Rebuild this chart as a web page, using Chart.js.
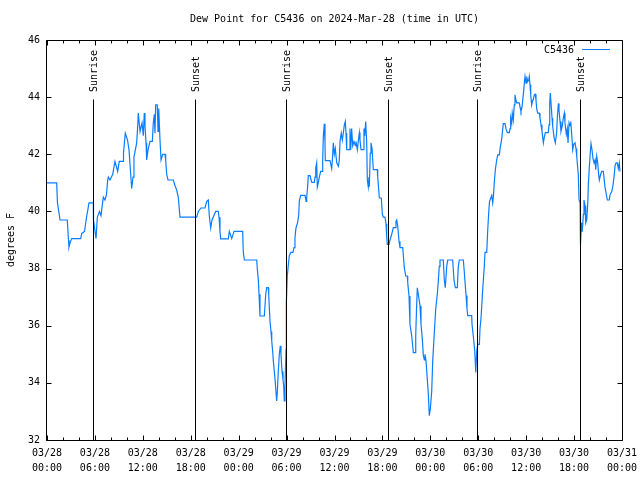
<!DOCTYPE html>
<html><head><meta charset="utf-8">
<script src="https://cdn.jsdelivr.net/npm/chart.js@4"></script>
<style>html,body{margin:0;padding:0;background:#fff}#wrap{width:640px;height:480px}</style>
</head><body><div id="wrap"><canvas id="c" width="640" height="480"></canvas></div>
<script>
const titleText = 'Dew Point for C5436 on 2024-Mar-28 (time in UTC)';
const seriesName = 'C5436';
const yAxisTitle = 'degrees F';
const xTickHours = [0,6,12,18,24,30,36,42,48,54,60,66,72];
const xTickDates = ['03/28','03/28','03/28','03/28','03/29','03/29','03/29','03/29','03/30','03/30','03/30','03/30','03/31'];
const xTickTimes = ['00:00','06:00','12:00','18:00','00:00','06:00','12:00','18:00','00:00','06:00','12:00','18:00','00:00'];
const yMin = 32, yMax = 46, yStep = 2;
const eventHours = [5.81, 18.57, 29.95, 42.7, 53.87, 66.8];
const eventNames = ['Sunrise','Sunset','Sunrise','Sunset','Sunrise','Sunset'];
const eventTop = 43.95;
// [hours since 03/28 00:00 UTC, dew point F]
const dewSeries = [
[0,41.0],[1.21,41.0],[1.31,40.3],[1.5,39.96],[1.63,39.7],[2.54,39.7],[2.69,39.0],[2.75,38.75],[2.88,38.9],[3.09,39.05],
[4.22,39.05],[4.35,39.23],[4.7,39.3],[4.97,39.83],[5.26,40.3],[5.8,40.3],[5.82,39.7],[6.14,39.05],[6.3,39.8],[6.57,40.0],
[6.76,39.85],[7.05,40.5],[7.26,40.4],[7.45,40.6],[7.6,41.1],[7.68,41.2],[7.89,41.1],[8.23,41.3],[8.51,41.75],[8.85,41.4],
[9.05,41.75],[9.52,41.75],[9.58,42.05],[9.8,42.74],[10.08,42.5],[10.27,42.15],[10.48,41.3],[10.6,40.8],[10.77,41.2],[10.89,41.9],
[11.23,42.4],[11.36,43.0],[11.43,43.44],[11.65,42.8],[11.9,43.1],[12.06,42.65],[12.18,43.44],[12.27,43.0],[12.4,42.4],[12.48,41.8],
[12.68,42.2],[12.9,42.45],[13.19,42.45],[13.31,43.1],[13.44,43.4],[13.52,42.74],[13.61,43.73],[13.81,43.73],[13.9,42.8],[13.99,43.6],
[14.15,42.5],[14.28,41.8],[14.49,42.0],[14.78,42.0],[14.86,41.8],[14.99,41.3],[15.15,41.1],[15.82,41.1],[16.03,40.9],[16.24,40.75],
[16.44,40.5],[16.65,39.8],[18.53,39.8],[18.75,39.8],[18.95,40.0],[19.28,40.12],[19.78,40.12],[20.0,40.35],[20.2,40.4],[20.32,39.85],
[20.5,39.42],[20.66,39.7],[21.12,40.0],[21.45,40.0],[21.54,39.8],[21.66,39.3],[21.75,39.04],[22.7,39.04],[22.83,39.3],[23.13,39.05],
[23.42,39.3],[24.5,39.3],[24.58,38.57],[24.71,38.3],[26.26,38.3],[26.33,38.0],[26.46,37.6],[26.55,37.1],[26.67,36.34],[27.21,36.34],
[27.39,37.1],[27.51,37.33],[27.71,37.33],[27.76,37.1],[27.92,36.17],[28.05,35.8],[28.14,35.47],[28.26,35.1],[28.34,34.77],[28.55,34.13],
[28.68,33.66],[28.76,33.37],[28.84,33.66],[28.96,34.4],[29.09,35.0],[29.21,35.3],[29.3,35.0],[29.43,34.4],[29.55,34.1],[29.64,33.9],
[29.71,33.37],[29.8,33.9],[29.93,35.17],[29.97,36.8],[30.09,37.74],[30.22,38.14],[30.34,38.44],[30.52,38.57],[30.8,38.57],[30.93,38.73],
[31.05,39.08],[31.18,39.43],[31.37,39.6],[31.52,39.87],[31.59,40.35],[31.77,40.56],[32.31,40.56],[32.44,40.35],[32.52,40.5],[32.64,40.88],
[32.72,41.25],[32.93,41.25],[33.15,41.02],[33.47,41.02],[33.56,41.2],[33.65,41.52],[33.77,41.7],[33.85,40.86],[33.97,41.0],[34.1,41.2],
[34.27,41.4],[34.47,41.4],[34.52,41.8],[34.6,42.62],[34.72,43.07],[34.81,42.4],[34.85,41.78],[35.44,41.78],[35.65,41.5],[35.73,41.78],
[35.85,42.4],[35.98,42.0],[36.1,42.2],[36.28,41.7],[36.48,41.58],[36.6,41.8],[36.69,42.45],[36.85,42.74],[36.98,42.5],[37.1,42.74],
[37.23,43.03],[37.35,43.15],[37.44,42.74],[37.53,42.16],[37.82,42.16],[37.94,42.9],[38.03,42.16],[38.15,42.9],[38.28,42.3],[38.44,42.45],
[38.61,42.3],[38.69,42.45],[38.86,42.16],[38.98,42.45],[39.11,42.76],[39.19,42.5],[39.32,42.16],[39.61,42.16],[39.69,42.9],[39.78,42.64],
[39.91,43.15],[40.03,42.45],[40.11,41.1],[40.23,40.86],[40.32,41.2],[40.36,40.86],[40.48,42.04],[40.57,42.4],[40.7,42.2],[40.86,41.46],
[41.36,41.46],[41.41,41.2],[41.54,40.76],[41.61,40.47],[41.86,40.47],[41.99,39.9],[42.11,39.8],[42.32,39.8],[42.45,39.57],[42.54,39.1],
[42.61,38.85],[42.82,38.85],[42.95,39.0],[43.16,39.2],[43.36,39.43],[43.58,39.43],[43.7,39.65],[43.79,39.7],[43.91,39.5],[44.08,38.96],
[44.2,38.73],[44.54,38.73],[44.61,38.5],[44.74,38.03],[44.92,37.74],[45.12,37.74],[45.17,37.5],[45.33,37.04],[45.45,36.05],[45.67,35.64],
[45.79,35.3],[45.87,35.06],[46.08,35.06],[46.17,35.64],[46.29,36.75],[46.37,37.33],[46.49,37.1],[46.71,36.7],[46.83,36.05],[47.0,35.53],
[47.12,34.96],[47.25,34.8],[47.33,35.0],[47.46,34.77],[47.62,34.13],[47.75,33.6],[47.87,32.85],[48.0,33.1],[48.17,33.7],[48.3,34.77],
[48.5,35.76],[48.67,36.57],[48.87,37.1],[49.0,37.56],[49.12,38.08],[49.21,38.3],[49.62,38.3],[49.75,37.6],[49.87,37.33],[50.05,38.08],
[50.18,38.3],[50.8,38.3],[50.96,37.6],[51.13,37.33],[51.38,37.33],[51.5,38.08],[51.63,38.3],[52.13,38.3],[52.22,38.0],[52.47,37.06],
[52.59,36.6],[52.68,36.35],[53.18,36.35],[53.22,36.05],[53.38,35.64],[53.56,35.12],[53.69,34.36],[53.81,35.12],[53.94,35.35],[54.14,35.35],
[54.22,35.9],[54.35,36.28],[54.51,37.04],[54.64,37.6],[54.76,38.08],[54.85,38.57],[55.06,38.57],[55.19,39.37],[55.31,39.95],[55.41,40.35],
[55.69,40.56],[55.81,40.3],[55.89,40.5],[56.01,41.02],[56.14,41.46],[56.31,41.8],[56.44,41.98],[56.64,41.98],[56.76,42.25],[56.94,42.54],
[57.06,42.88],[57.14,43.07],[57.35,43.07],[57.48,42.88],[57.64,42.76],[57.89,42.76],[57.98,42.9],[58.06,43.27],[58.19,43.1],[58.26,43.44],
[58.39,43.2],[58.51,43.73],[58.6,44.08],[58.69,43.93],[58.81,43.8],[59.14,43.8],[59.23,43.65],[59.35,43.5],[59.48,43.65],[59.64,44.08],
[59.77,44.49],[59.86,44.72],[59.98,44.49],[60.07,44.72],[60.19,44.55],[60.32,44.6],[60.39,44.72],[60.48,44.43],[60.57,44.08],[60.69,43.73],
[60.82,43.9],[60.89,43.9],[61.02,44.08],[61.14,44.1],[61.23,43.9],[61.32,43.6],[61.44,43.44],[61.65,43.44],[61.73,43.27],[61.86,43.03],
[61.98,42.8],[62.07,42.6],[62.15,42.4],[62.27,42.6],[62.4,42.76],[62.77,42.76],[62.86,43.03],[62.95,43.78],[63.02,44.14],[63.11,43.8],
[63.24,43.27],[63.32,42.98],[63.49,42.6],[63.65,42.4],[63.82,42.76],[63.9,43.27],[64.03,43.78],[64.11,43.55],[64.24,43.15],[64.36,42.8],
[64.53,43.0],[64.65,43.27],[64.78,43.44],[64.86,43.1],[65.03,42.7],[65.15,42.9],[65.24,42.4],[65.37,43.1],[65.49,43.0],[65.58,43.15],
[65.7,42.7],[65.83,42.16],[65.95,42.35],[66.12,42.4],[66.24,42.2],[66.33,41.93],[66.53,41.28],[66.62,40.4],[66.75,40.3],[66.8,38.84],
[66.88,39.3],[66.95,39.6],[67.03,39.3],[67.16,39.9],[67.24,40.4],[67.37,40.2],[67.46,39.6],[67.58,39.7],[67.71,40.25],[67.78,40.9],
[67.91,41.55],[68.04,42.1],[68.12,42.37],[68.25,42.15],[68.37,41.85],[68.5,41.7],[68.62,41.8],[68.71,41.46],[68.83,41.93],[68.96,41.7],
[69.08,41.28],[69.16,41.1],[69.33,41.3],[69.46,41.4],[69.66,41.4],[69.87,40.85],[70.08,40.53],[70.16,40.4],[70.41,40.4],[70.5,40.58],
[70.71,40.7],[70.84,40.85],[71.0,41.2],[71.13,41.6],[71.25,41.7],[71.41,41.7],[71.54,41.5],[71.66,41.7],[71.75,41.4],[71.87,41.4]
];

const FONT = '"DejaVu Sans Mono", "Liberation Mono", monospace';
const lineColor = '#0a7dff';

const decor = {
  id: 'decor',
  afterDatasetsDraw(chart) {
    const ctx = chart.ctx, a = chart.chartArea;
    const xs = chart.scales.x, ys = chart.scales.y;
    const L = Math.round(a.left) - 0.5, R = Math.round(a.right) + 0.5;
    const T = Math.round(a.top) + 0.5, B = Math.round(a.bottom) + 0.5;
    ctx.save();
    ctx.strokeStyle = '#000'; ctx.lineWidth = 1;
    eventHours.forEach((h) => {
      const px = Math.round(xs.getPixelForValue(h)) + 0.5;
      ctx.beginPath();
      ctx.moveTo(px, B);
      ctx.lineTo(px, Math.round(ys.getPixelForValue(eventTop)) + 0.5);
      ctx.stroke();
    });
    ctx.beginPath();
    ctx.rect(L, T, R - L, B - T);
    ctx.stroke();
    ctx.beginPath();
    for (let h = 0; h <= 72; h += 2) {
      const px = Math.round(xs.getPixelForValue(h)) + 0.5;
      const len = (h % 6 === 0) ? 5 : 3;
      ctx.moveTo(px, B); ctx.lineTo(px, B - len);
      ctx.moveTo(px, T); ctx.lineTo(px, T + len);
    }
    for (let v = yMin; v <= yMax; v += yStep) {
      const py = Math.round(ys.getPixelForValue(v)) + 0.5;
      ctx.moveTo(L, py); ctx.lineTo(L + 5, py);
      ctx.moveTo(R, py); ctx.lineTo(R - 5, py);
    }
    ctx.stroke();
    ctx.fillStyle = '#000';
    ctx.font = '10px ' + FONT;
    ctx.textAlign = 'center'; ctx.textBaseline = 'middle';
    ctx.fillText(titleText, (a.left + a.right) / 2, 19);
    ctx.save();
    ctx.translate(11, (a.top + a.bottom) / 2);
    ctx.rotate(-Math.PI / 2);
    ctx.fillText(yAxisTitle, 0, 0);
    ctx.restore();
    eventHours.forEach((h, i) => {
      const px = Math.round(xs.getPixelForValue(h)) + 1;
      ctx.save();
      ctx.translate(px, 92);
      ctx.rotate(-Math.PI / 2);
      ctx.textAlign = 'left';
      ctx.fillText(eventNames[i], 0, 0);
      ctx.restore();
    });
    ctx.textAlign = 'right';
    ctx.fillText(seriesName, 574, 50);
    ctx.strokeStyle = lineColor;
    ctx.beginPath();
    ctx.moveTo(582, 49.5); ctx.lineTo(610, 49.5);
    ctx.stroke();
    ctx.restore();
  }
};

new Chart(document.getElementById('c'), {
  type: 'line',
  data: {
    datasets: [{
      label: seriesName,
      data: dewSeries.map(p => ({x: p[0], y: p[1]})),
      borderColor: lineColor,
      borderWidth: 1.2,
      pointRadius: 0,
      tension: 0,
      fill: false
    }]
  },
  options: {
    responsive: false,
    animation: false,
    devicePixelRatio: 1,
    layout: { padding: { left: 0, right: 18, top: 40, bottom: 0 } },
    plugins: { legend: { display: false }, title: { display: false }, tooltip: { enabled: false } },
    scales: {
      x: {
        type: 'linear', min: 0, max: 72,
        afterBuildTicks: (s) => { s.ticks = xTickHours.map(v => ({ value: v })); },
        afterFit: (s) => { s.height = 40; s.paddingLeft = 0; s.paddingRight = 0; },
        ticks: {
          autoSkip: false, maxRotation: 0, minRotation: 0, padding: 6, color: '#000',
          font: { family: FONT, size: 10, lineHeight: 1.5 },
          callback: (v) => { const i = xTickHours.indexOf(v); return i >= 0 ? [xTickDates[i], xTickTimes[i]] : ''; }
        },
        grid: { display: false, drawTicks: false },
        border: { display: false }
      },
      y: {
        type: 'linear', min: yMin, max: yMax,
        afterFit: (s) => { s.width = 47; s.paddingTop = 0; s.paddingBottom = 0; },
        ticks: { stepSize: yStep, padding: 7, color: '#000', font: { family: FONT, size: 10 } },
        grid: { display: false, drawTicks: false },
        border: { display: false }
      }
    }
  },
  plugins: [decor]
});
</script>
</body></html>
